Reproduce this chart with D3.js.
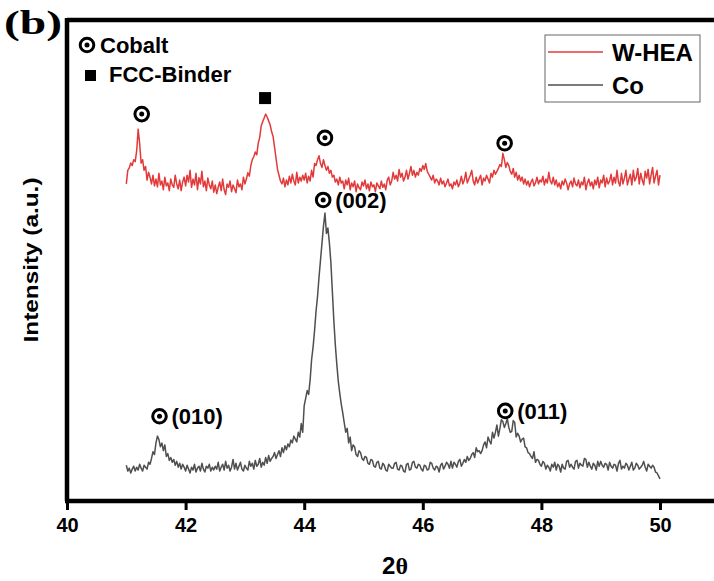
<!DOCTYPE html>
<html>
<head>
<meta charset="utf-8">
<script src="https://cdn.jsdelivr.net/npm/d3@7"></script>
<style>
  body { margin: 0; background: #fff; }
  text { font-family: Arial, "Liberation Sans", sans-serif; font-weight: bold; fill: #000; }
</style>
</head>
<body>
<div id="chart"></div>
<script>
// 2theta scan: 41.000 .. 50.000, step 0.025 (20 points per row = 0.5 deg)
const thetaStart = 41.0
const thetaStep = 0.025

const wheaValues = [
  662,690,695,705,700,712,708,730,775,745,705,712,690,698,670,686,676,662,680,658,
  672,656,684,660,668,650,676,658,664,648,672,660,655,680,662,652,670,648,666,676,
  658,680,666,690,655,672,660,684,650,675,662,688,656,668,648,674,660,652,668,645,
  660,642,655,666,648,672,650,640,662,655,668,646,660,652,644,670,656,662,650,676,
  662,672,685,678,700,712,718,728,722,746,758,782,790,798,806,800,792,784,770,760,
  738,715,692,680,668,662,674,656,670,660,678,664,682,668,660,686,664,676,668,680,
  670,684,664,678,668,690,676,704,700,712,720,704,696,712,700,690,698,684,690,676,
  680,666,672,660,676,664,668,652,670,660,674,650,664,656,668,646,662,654,650,666,
  658,670,652,662,648,666,656,660,646,664,658,652,668,655,662,650,670,676,660,668,
  686,672,680,668,692,676,684,668,676,690,672,684,698,680,690,676,686,680,694,688,
  700,692,704,688,682,676,670,680,664,672,668,660,674,662,668,656,664,672,658,662,
  652,666,660,670,656,664,678,662,670,686,664,672,680,690,668,660,676,664,672,680,
  660,674,668,680,672,664,684,676,690,682,688,694,702,698,725,712,696,706,700,688,
  682,694,676,686,670,680,668,676,662,672,660,668,656,666,672,658,664,676,662,670,
  666,678,660,672,664,686,668,662,676,660,670,656,664,652,668,660,672,664,650,662,
  668,656,674,662,658,670,654,666,660,676,650,664,672,658,666,652,670,660,676,654,
  670,664,680,656,674,662,668,682,660,676,664,690,666,658,684,662,674,690,660,672,
  682,660,690,668,676,694,662,684,670,660,688,674,692,662,680,696,664,678,690,660,
  680
]

const coValues = [
  82,70,76,66,74,80,70,78,72,84,76,70,82,78,74,88,84,96,110,104,
  128,142,135,120,128,112,124,100,106,92,98,88,94,82,90,78,86,74,84,78,
  70,82,74,66,78,72,84,68,76,80,70,86,74,68,80,76,84,70,78,72,
  80,74,88,70,78,84,72,90,76,82,70,78,94,74,86,72,80,88,74,70,
  82,76,72,90,80,86,74,92,80,84,96,78,88,82,98,86,102,90,96,100,
  108,96,104,112,100,118,108,122,114,126,120,134,128,142,136,130,150,140,168,150,
  205,220,236,228,258,300,326,360,400,430,470,505,540,575,602,560,571,540,500,440,
  380,330,290,255,230,208,190,170,150,158,128,140,112,124,120,104,100,112,108,96,
  92,100,98,86,84,94,92,80,78,88,90,76,74,86,82,72,70,84,80,76,
  76,86,88,74,72,82,80,70,68,84,86,72,74,88,90,78,76,84,82,74,
  70,82,80,72,74,88,86,76,72,80,78,68,82,86,74,80,88,84,76,90,
  76,88,84,78,90,94,80,86,94,88,100,92,96,104,108,98,118,110,112,106,
  112,124,130,118,140,132,126,150,138,150,165,142,158,176,172,160,168,178,160,150,
  152,174,170,140,148,142,130,136,138,120,118,108,106,100,96,110,88,94,92,84,
  80,90,86,74,82,78,70,84,78,88,72,84,80,68,84,76,74,90,92,78,
  84,78,74,90,92,76,86,82,80,96,94,78,88,80,74,86,82,72,90,80,
  90,82,78,86,84,72,88,80,76,84,82,70,86,92,74,80,76,86,82,72,
  80,88,72,76,86,82,74,78,82,90,78,70,84,80,76,82,78,68,66,60,
  54
]

const xTicks = [40, 42, 44, 46, 48, 50]

// peak markers (2theta, intensity)
const cobaltMarks = [[41.26, 806], [44.35, 757], [47.38, 746]]
const fccMarks = [[43.34, 839]]
const coPeakLabels = [["(010)", 41.56, 183], ["(002)", 44.32, 629], ["(011)", 47.39, 194]]

const seriesNames = ["W-HEA", "Co"]
const seriesColors = ["#e23a3a", "#4f4f4f"]

const width = 714, height = 581

const svg = d3.select("#chart").append("svg")
  .attr("width", width)
  .attr("height", height)

const x = d3.scaleLinear().domain([40, 51]).range([67, 67 + 59.3 * 11])
const y = d3.scaleLinear().domain([0, 1000]).range([505, 20])

const axisY = 501, topY = 20, leftX = 67

const toPoints = vals => vals.map((v, i) => [thetaStart + i * thetaStep, v])

const line = d3.line()
  .x(d => x(d[0]))
  .y(d => y(d[1]))

svg.append("path")
  .datum(toPoints(wheaValues))
  .attr("d", line)
  .attr("fill", "none")
  .attr("stroke", seriesColors[0])
  .attr("stroke-width", 1.5)
  .attr("stroke-linejoin", "round")

svg.append("path")
  .datum(toPoints(coValues))
  .attr("d", line)
  .attr("fill", "none")
  .attr("stroke", seriesColors[1])
  .attr("stroke-width", 1.5)
  .attr("stroke-linejoin", "round")

// frame
svg.append("line")
  .attr("x1", leftX).attr("x2", width)
  .attr("y1", topY).attr("y2", topY)
  .attr("stroke", "#000").attr("stroke-width", 4.5)
svg.append("line")
  .attr("x1", leftX).attr("x2", leftX)
  .attr("y1", topY - 2).attr("y2", axisY)
  .attr("stroke", "#000").attr("stroke-width", 4.5)

const xAxis = svg.append("g")
  .attr("transform", `translate(0,${axisY})`)
  .call(d3.axisBottom(x).tickValues(xTicks).tickSize(9).tickSizeOuter(0).tickPadding(8))
xAxis.select(".domain").attr("stroke-width", 4.5).attr("d", `M${leftX - 2},0H${width}`)
xAxis.selectAll(".tick line").attr("stroke-width", 3)
xAxis.selectAll(".tick text")
  .attr("font-family", null).attr("font-size", null)
  .style("font-family", "Arial, 'Liberation Sans', sans-serif")
  .style("font-weight", "bold")
  .style("font-size", "20px")

// axis titles
const xt = svg.append("text")
  .attr("x", 395).attr("y", 574)
  .attr("text-anchor", "middle")
  .style("font-size", "24px")
xt.append("tspan").text("2")
xt.append("tspan").text("θ").style("font-family", "'Liberation Serif', 'DejaVu Serif', serif")

svg.append("text")
  .attr("transform", "translate(38,260) rotate(-90)")
  .attr("text-anchor", "middle")
  .attr("textLength", 165)
  .attr("lengthAdjust", "spacingAndGlyphs")
  .style("font-size", "20px")
  .text("Intensity (a.u.)")

svg.append("text")
  .attr("x", 4).attr("y", 34)
  .attr("textLength", 58)
  .attr("lengthAdjust", "spacingAndGlyphs")
  .style("font-family", "'Liberation Serif', 'Times New Roman', serif")
  .style("font-size", "34px")
  .text("(b)")

// cobalt symbol
function cobaltSymbol(g, cx, cy) {
  g.append("circle").attr("cx", cx).attr("cy", cy).attr("r", 6.8)
    .attr("fill", "#fff").attr("stroke", "#000").attr("stroke-width", 3)
  g.append("circle").attr("cx", cx).attr("cy", cy).attr("r", 2.5).attr("fill", "#000")
}

const marks = svg.append("g")
cobaltMarks.forEach(d => cobaltSymbol(marks, x(d[0]), y(d[1])))
marks.selectAll(".fcc")
  .data(fccMarks)
  .enter().append("rect")
  .attr("class", "fcc")
  .attr("x", d => x(d[0]) - 6).attr("y", d => y(d[1]) - 6)
  .attr("width", 12).attr("height", 12)
  .attr("fill", "#000")

coPeakLabels.forEach(d => {
  const cx = x(d[1]), cy = y(d[2])
  cobaltSymbol(marks, cx, cy)
  marks.append("text")
    .attr("x", cx + 12).attr("y", cy + 8)
    .style("font-size", "22px")
    .text(d[0])
})

// phase key, top left
cobaltSymbol(svg, 87, 45)
svg.append("text").attr("x", 100).attr("y", 53).style("font-size", "22px").text("Cobalt")
svg.append("rect").attr("x", 85).attr("y", 70).attr("width", 11).attr("height", 11).attr("fill", "#000")
svg.append("text").attr("x", 109).attr("y", 82).style("font-size", "22px").text("FCC-Binder")

// series legend
const legend = svg.append("g")
legend.append("rect")
  .attr("x", 545).attr("y", 35).attr("width", 155).attr("height", 67)
  .attr("fill", "#fff").attr("stroke", "#666").attr("stroke-width", 1)
seriesNames.forEach((name, i) => {
  const ly = 52 + i * 33
  legend.append("line")
    .attr("x1", 548).attr("x2", 603).attr("y1", ly).attr("y2", ly)
    .attr("stroke", seriesColors[i]).attr("stroke-width", 1.6)
  legend.append("text")
    .attr("x", 612).attr("y", ly + 9)
    .style("font-size", "24px")
    .text(name)
})
</script>
</body>
</html>
